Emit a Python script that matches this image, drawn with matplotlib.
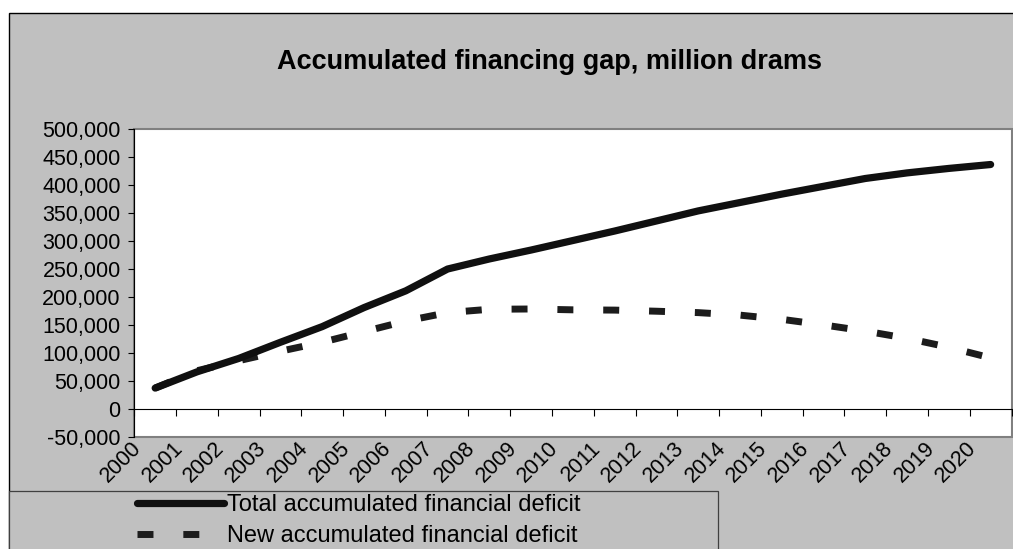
import matplotlib
matplotlib.use("Agg")
import matplotlib.pyplot as plt
import numpy as np
from matplotlib.patches import Rectangle
from matplotlib.lines import Line2D
from matplotlib.ticker import FuncFormatter
from matplotlib.transforms import ScaledTranslation, blended_transform_factory

# Accumulated financing gap, million drams
years = [str(y) for y in range(2000, 2021)]
total_deficit = [37000, 66000, 90000, 119000, 147000, 181000, 211000, 250000,
                 268000, 284000, 301000, 318000, 336000, 354000, 369000,
                 384000, 398000, 412000, 422000, 430000, 437000]
new_deficit = [37000, 68000, 86000, 103000, 119000, 138000, 157000, 172000,
               178000, 178500, 177000, 176500, 174500, 172000, 167500,
               160000, 150000, 139000, 126000, 110000, 91000]
series_labels = ["Total accumulated financial deficit",
                 "New accumulated financial deficit"]
title = "Accumulated financing gap, million drams"

W, H = 1013, 549
DPI = 100

plt.rcParams["font.family"] = ["Liberation Sans", "DejaVu Sans"]


def fx(px):
    return px / W


def fy(py):
    return 1 - py / H


fig = plt.figure(figsize=(W / DPI, H / DPI), dpi=DPI)
fig.patch.set_facecolor("white")

# grey chart area; it runs past the right and bottom edges, so only the
# left and top borders are drawn
fig.add_artist(Rectangle((fx(8.5), 0), 1 - fx(8.5), fy(12.5),
                         transform=fig.transFigure, facecolor="#C0C0C0",
                         edgecolor="none", zorder=0))
fig.add_artist(Line2D([fx(8.5), fx(8.5), 1], [0, fy(12.5), fy(12.5)],
                      transform=fig.transFigure, color="black", lw=1.0,
                      solid_joinstyle="miter", zorder=0.5))

fig.text(fx(549), fy(69), title, ha="center", va="baseline",
         fontsize=19.5, fontweight="bold", color="black")

ax = fig.add_axes([fx(134.3), fy(436.7), fx(1011.5) - fx(134.3), fy(129.3) - fy(436.7)])
ax.patch.set_facecolor("white")
ax.patch.set_edgecolor("#808080")
ax.patch.set_linewidth(1.5)

x = np.arange(len(years))
line_total, = ax.plot(x, total_deficit, color="#101010", lw=5.2,
                      solid_capstyle="round", solid_joinstyle="round", zorder=3)
line_new, = ax.plot(x, new_deficit, color="#1c1c1c", lw=5.0,
                    dashes=(2.3, 4.3), dash_capstyle="butt", zorder=2)

ax.set_xlim(-0.5, len(years) - 0.5)
ax.set_ylim(-50000, 500000)
ax.set_yticks(np.arange(-50000, 500001, 50000))
ax.yaxis.set_major_formatter(FuncFormatter(lambda v, p: f"{v:,.0f}"))
ax.tick_params(axis="y", direction="out", length=4.3, width=0.8, pad=5.5,
               labelsize=15.5, colors="black")

# category axis crosses at zero, ticks between categories
ax.spines["bottom"].set_position(("data", 0))
ax.set_xticks(np.arange(-0.5, len(years), 1))
ax.tick_params(axis="x", direction="out", length=5, width=0.8, labelbottom=False)
for side in ("top", "right"):
    ax.spines[side].set_visible(False)
ax.spines["left"].set_color("black")
ax.spines["left"].set_linewidth(0.8)
ax.spines["bottom"].set_color("black")
ax.spines["bottom"].set_linewidth(0.8)

label_tf = blended_transform_factory(ax.transData, ax.transAxes) + \
    ScaledTranslation(-10 / DPI, -1 / DPI, fig.dpi_scale_trans)
for xi, yr in zip(x, years):
    ax.text(xi, 0, yr, transform=label_tf, rotation=45, ha="right", va="top",
            fontsize=15.5, color="black", clip_on=False)

# legend box along the bottom
fig.add_artist(Rectangle((fx(8.5), fy(700)), fx(718) - fx(8.5), fy(491) - fy(700),
                         transform=fig.transFigure, facecolor="#C0C0C0",
                         edgecolor="#404040", lw=0.9, zorder=1))
fig.legend([line_total, line_new], series_labels, loc="center left",
           bbox_to_anchor=(fx(137), fy(520.5)), frameon=False, fontsize=17,
           handlelength=3.7, handletextpad=0.1, labelspacing=0.4, borderpad=0,
           borderaxespad=0)

fig.savefig("out.png", dpi=DPI, facecolor="white")
